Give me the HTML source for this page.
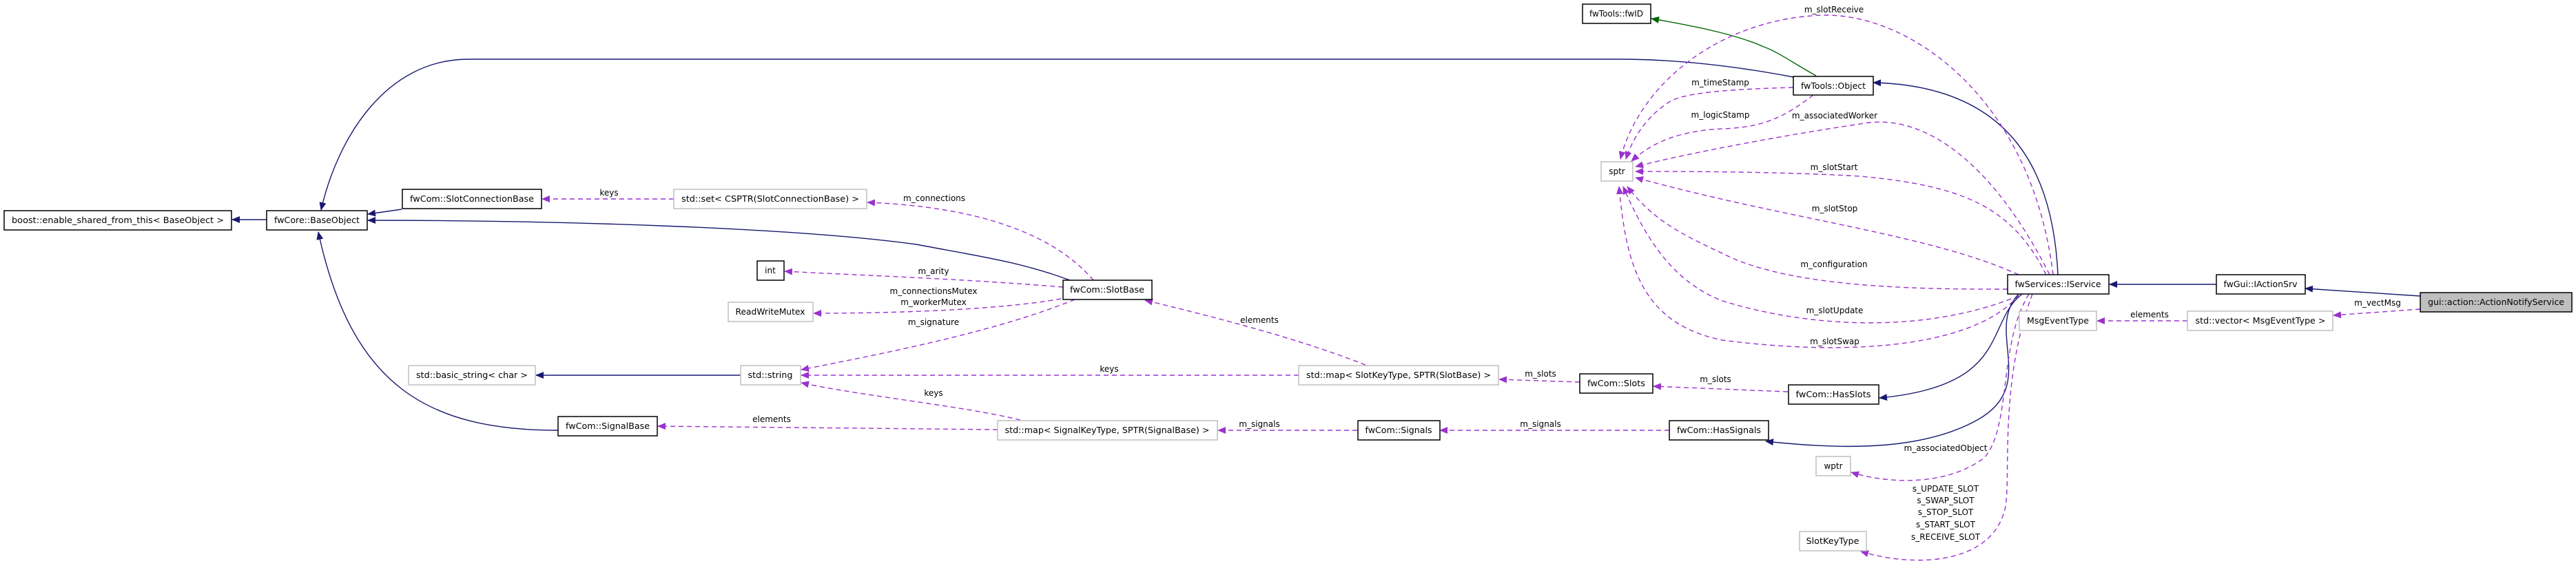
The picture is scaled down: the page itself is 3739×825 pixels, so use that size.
<!DOCTYPE html>
<html><head><meta charset="utf-8"><style>
html,body{margin:0;padding:0;background:#fff;width:3739px;height:825px;overflow:hidden}
svg{display:block}
text{font-family:"DejaVu Sans","Liberation Sans",sans-serif;font-size:12px;fill:#000}
.b{fill:#fff;stroke:#000;stroke-width:1.5}
.g{fill:#fff;stroke:#bfbfbf;stroke-width:1.5}
.n{fill:none;stroke:#191970;stroke-width:1.4}
.p{fill:none;stroke:#9a32cd;stroke-width:1.4;stroke-dasharray:7,5}
.gr{fill:none;stroke:#006400;stroke-width:1.4}
</style></head><body>
<svg width="3739" height="825" viewBox="0 0 3739 825" xmlns="http://www.w3.org/2000/svg">
<defs>
<marker id="an" markerWidth="12" markerHeight="10" refX="11" refY="5" orient="auto" markerUnits="userSpaceOnUse"><path d="M0,0 L12,5 L0,10 z" fill="#191970"/></marker>
<marker id="ap" markerWidth="12" markerHeight="10" refX="11" refY="5" orient="auto" markerUnits="userSpaceOnUse"><path d="M0,0 L12,5 L0,10 z" fill="#9a32cd"/></marker>
<marker id="ag" markerWidth="12" markerHeight="10" refX="11" refY="5" orient="auto" markerUnits="userSpaceOnUse"><path d="M0,0 L12,5 L0,10 z" fill="#006400"/></marker>
</defs>

<!-- navy inheritance edges -->
<path class="n" marker-end="url(#an)" d="M387,319 L337,319"/>
<path class="n" marker-end="url(#an)" d="M583,304 L534,311"/>
<path class="n" marker-end="url(#an)" d="M2603,112 C2540,100 2450,86 2350,86 L680,86 C560,86 490,200 466,305"/>
<path class="n" marker-end="url(#an)" d="M1553,407 C1480,380 1420,372 1330,355 C1150,330 800,320 534,320"/>
<path class="n" marker-end="url(#an)" d="M810,625 C620,625 510,560 462,337"/>
<path class="n" marker-end="url(#an)" d="M1075,545 L778,545"/>
<path class="n" marker-end="url(#an)" d="M2987,399 C2980,250 2920,125 2719,120"/>
<path class="n" marker-end="url(#an)" d="M2935,427 C2880,470 2920,560 2728,578"/>
<path class="n" marker-end="url(#an)" d="M2930,427 C2880,480 2960,560 2870,610 C2780,660 2650,650 2563,641"/>
<path class="n" marker-end="url(#an)" d="M3217,413 L3062,413"/>
<path class="n" marker-end="url(#an)" d="M3513,430 L3346,419"/>
<path class="gr" marker-end="url(#ag)" d="M2636,110 C2600,90 2580,75 2560,68 C2520,50 2460,38 2397,27"/>

<!-- purple dashed edges -->
<path class="p" marker-end="url(#ap)" d="M978,289 L787,289"/>
<path class="p" marker-end="url(#ap)" d="M1587,407 C1530,340 1420,300 1259,294"/>
<path class="p" marker-end="url(#ap)" d="M1543,417 C1400,405 1250,400 1139,394"/>
<path class="p" marker-end="url(#ap)" d="M1540,434 C1450,450 1300,455 1181,455"/>
<path class="p" marker-end="url(#ap)" d="M1560,435 C1450,480 1300,510 1163,537"/>
<path class="p" marker-end="url(#ap)" d="M1885,545 L1163,545"/>
<path class="p" marker-end="url(#ap)" d="M1481,610 C1400,590 1250,575 1163,556"/>
<path class="p" marker-end="url(#ap)" d="M1448,624 L955,619"/>
<path class="p" marker-end="url(#ap)" d="M1982,530 C1880,490 1760,460 1662,436"/>
<path class="p" marker-end="url(#ap)" d="M2293,555 L2176,551"/>
<path class="p" marker-end="url(#ap)" d="M1970,625 L1768,625"/>
<path class="p" marker-end="url(#ap)" d="M2423,625 L2090,625"/>
<path class="p" marker-end="url(#ap)" d="M2595,569 L2400,561"/>
<path class="p" marker-end="url(#ap)" d="M3513,449 L3387,458"/>
<path class="p" marker-end="url(#ap)" d="M3175,466 L3044,466"/>
<path class="p" marker-end="url(#ap)" d="M2980,399 C2950,150 2780,22 2650,22 C2500,25 2380,120 2352,231"/>
<path class="p" marker-end="url(#ap)" d="M2603,127 C2500,130 2440,135 2420,150 C2390,170 2370,200 2360,231"/>
<path class="p" marker-end="url(#ap)" d="M2632,138 C2590,170 2560,185 2500,187 C2440,190 2400,205 2368,234"/>
<path class="p" marker-end="url(#ap)" d="M2975,399 C2900,250 2800,160 2700,180 C2600,195 2460,220 2374,242"/>
<path class="p" marker-end="url(#ap)" d="M2970,399 C2920,300 2850,270 2700,256 C2600,250 2480,249 2374,249"/>
<path class="p" marker-end="url(#ap)" d="M2930,399 C2800,340 2600,320 2374,258"/>
<path class="p" marker-end="url(#ap)" d="M2914,420 C2800,420 2600,420 2500,368 C2440,340 2400,320 2362,271"/>
<path class="p" marker-end="url(#ap)" d="M2919,434 C2800,480 2640,480 2500,437 C2430,410 2390,350 2356,271"/>
<path class="p" marker-end="url(#ap)" d="M2930,429 C2870,500 2700,520 2500,494 C2380,470 2360,380 2350,271"/>
<path class="p" marker-end="url(#ap)" d="M2945,427 C2900,500 2920,620 2880,665 C2820,710 2730,700 2687,686"/>
<path class="p" marker-end="url(#ap)" d="M2950,427 C2900,560 2920,700 2910,740 C2890,820 2780,825 2701,801"/>

<!-- nodes -->
<rect class="b" x="6" y="306" width="330" height="28"/><text x="171" y="324" text-anchor="middle" textLength="308" lengthAdjust="spacingAndGlyphs">boost::enable_shared_from_this&lt; BaseObject &gt;</text>
<rect class="b" x="387" y="306" width="146" height="28"/><text x="460" y="324" text-anchor="middle" textLength="124" lengthAdjust="spacingAndGlyphs">fwCore::BaseObject</text>
<rect class="b" x="584" y="275" width="202" height="28"/><text x="685" y="293" text-anchor="middle" textLength="180" lengthAdjust="spacingAndGlyphs">fwCom::SlotConnectionBase</text>
<rect class="g" x="978" y="275" width="280" height="28"/><text x="1118" y="293" text-anchor="middle" textLength="258" lengthAdjust="spacingAndGlyphs">std::set&lt; CSPTR(SlotConnectionBase) &gt;</text>
<rect class="b" x="1099" y="379" width="39" height="28"/><text x="1118" y="397" text-anchor="middle">int</text>
<rect class="g" x="1057" y="439" width="123" height="28"/><text x="1118" y="457" text-anchor="middle" textLength="101" lengthAdjust="spacingAndGlyphs">ReadWriteMutex</text>
<rect class="g" x="593" y="531" width="184" height="28"/><text x="685" y="549" text-anchor="middle" textLength="162" lengthAdjust="spacingAndGlyphs">std::basic_string&lt; char &gt;</text>
<rect class="g" x="1075" y="531" width="87" height="28"/><text x="1118" y="549" text-anchor="middle" textLength="65" lengthAdjust="spacingAndGlyphs">std::string</text>
<rect class="b" x="810" y="605" width="144" height="28"/><text x="882" y="623" text-anchor="middle" textLength="122" lengthAdjust="spacingAndGlyphs">fwCom::SignalBase</text>
<rect class="b" x="2297" y="6" width="99" height="28"/><text x="2346" y="24" text-anchor="middle" textLength="78" lengthAdjust="spacingAndGlyphs">fwTools::fwID</text>
<rect class="g" x="2324" y="235" width="46" height="28"/><text x="2347" y="253" text-anchor="middle">sptr</text>
<rect class="b" x="1543" y="407" width="129" height="28"/><text x="1607" y="425" text-anchor="middle" textLength="108" lengthAdjust="spacingAndGlyphs">fwCom::SlotBase</text>
<rect class="g" x="1885" y="531" width="290" height="28"/><text x="2030" y="549" text-anchor="middle" textLength="268" lengthAdjust="spacingAndGlyphs">std::map&lt; SlotKeyType, SPTR(SlotBase) &gt;</text>
<rect class="b" x="2293" y="543" width="106" height="28"/><text x="2346" y="561" text-anchor="middle" textLength="84" lengthAdjust="spacingAndGlyphs">fwCom::Slots</text>
<rect class="g" x="1448" y="611" width="319" height="28"/><text x="1607" y="629" text-anchor="middle" textLength="297" lengthAdjust="spacingAndGlyphs">std::map&lt; SignalKeyType, SPTR(SignalBase) &gt;</text>
<rect class="b" x="1971" y="611" width="119" height="28"/><text x="2030" y="629" text-anchor="middle" textLength="97" lengthAdjust="spacingAndGlyphs">fwCom::Signals</text>
<rect class="b" x="2423" y="611" width="144" height="28"/><text x="2495" y="629" text-anchor="middle" textLength="122" lengthAdjust="spacingAndGlyphs">fwCom::HasSignals</text>
<rect class="b" x="2603" y="111" width="116" height="27"/><text x="2661" y="129" text-anchor="middle" textLength="94" lengthAdjust="spacingAndGlyphs">fwTools::Object</text>
<rect class="b" x="2914" y="399" width="147" height="28"/><text x="2987" y="417" text-anchor="middle" textLength="125" lengthAdjust="spacingAndGlyphs">fwServices::IService</text>
<rect class="b" x="3217" y="399" width="129" height="28"/><text x="3281" y="417" text-anchor="middle" textLength="107" lengthAdjust="spacingAndGlyphs">fwGui::IActionSrv</text>
<rect x="3513" y="425" width="220" height="28" fill="#bfbfbf" stroke="#000" stroke-width="1.5"/><text x="3623" y="443" text-anchor="middle" textLength="198" lengthAdjust="spacingAndGlyphs">gui::action::ActionNotifyService</text>
<rect class="g" x="2931" y="452" width="112" height="28"/><text x="2987" y="470" text-anchor="middle" textLength="90" lengthAdjust="spacingAndGlyphs">MsgEventType</text>
<rect class="g" x="3175" y="452" width="211" height="28"/><text x="3281" y="470" text-anchor="middle" textLength="189" lengthAdjust="spacingAndGlyphs">std::vector&lt; MsgEventType &gt;</text>
<rect class="b" x="2596" y="559" width="131" height="28"/><text x="2661" y="577" text-anchor="middle" textLength="109" lengthAdjust="spacingAndGlyphs">fwCom::HasSlots</text>
<rect class="g" x="2636" y="663" width="50" height="28"/><text x="2661" y="681" text-anchor="middle">wptr</text>
<rect class="g" x="2612" y="772" width="97" height="28"/><text x="2660" y="790" text-anchor="middle" textLength="77" lengthAdjust="spacingAndGlyphs">SlotKeyType</text>

<!-- edge labels -->
<g text-anchor="middle">
<text x="884" y="284">keys</text>
<text x="1356" y="292">m_connections</text>
<text x="1355" y="398">m_arity</text>
<text x="1355" y="427">m_connectionsMutex</text>
<text x="1355" y="443">m_workerMutex</text>
<text x="1355" y="472">m_signature</text>
<text x="1828" y="469">elements</text>
<text x="1610" y="540">keys</text>
<text x="1355" y="575">keys</text>
<text x="1120" y="613">elements</text>
<text x="1828" y="620">m_signals</text>
<text x="2236" y="620">m_signals</text>
<text x="2236" y="547">m_slots</text>
<text x="2490" y="555">m_slots</text>
<text x="2497" y="124">m_timeStamp</text>
<text x="2497" y="171">m_logicStamp</text>
<text x="2662" y="18">m_slotReceive</text>
<text x="2663" y="172">m_associatedWorker</text>
<text x="2662" y="247">m_slotStart</text>
<text x="2663" y="307">m_slotStop</text>
<text x="2662" y="388">m_configuration</text>
<text x="2663" y="455">m_slotUpdate</text>
<text x="2663" y="500">m_slotSwap</text>
<text x="2824" y="655">m_associatedObject</text>
<text x="2824" y="714">s_UPDATE_SLOT</text>
<text x="2824" y="731">s_SWAP_SLOT</text>
<text x="2824" y="748">s_STOP_SLOT</text>
<text x="2824" y="766">s_START_SLOT</text>
<text x="2824" y="784">s_RECEIVE_SLOT</text>
<text x="3120" y="461">elements</text>
<text x="3451" y="444">m_vectMsg</text>
</g>
</svg>
</body></html>
